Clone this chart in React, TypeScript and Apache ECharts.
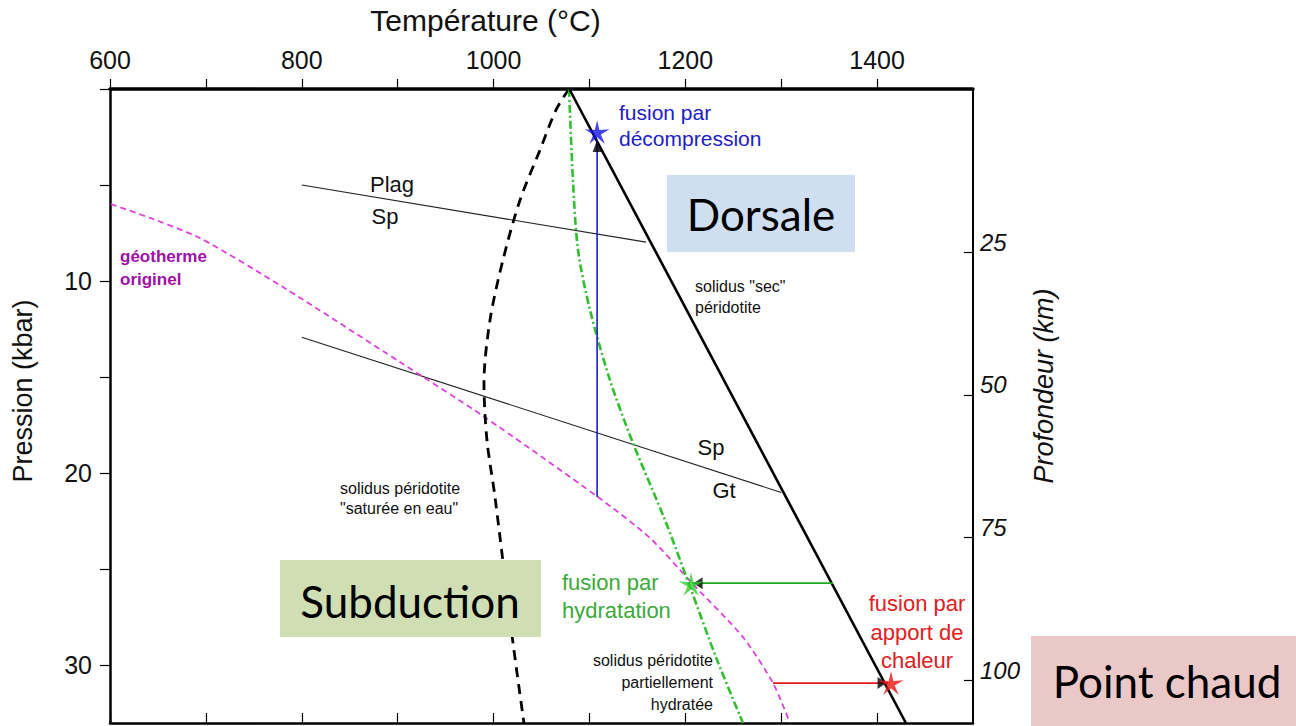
import React, { useEffect, useRef } from "react";
import * as echarts from "echarts";

// ---- axis ticks / labels ----
const tempTicks = [600, 700, 800, 900, 1000, 1100, 1200, 1300, 1400];
const tempLabels = [600, 800, 1000, 1200, 1400];
const pressureTicks = [0, 5, 10, 15, 20, 25, 30];
const pressureLabels = [10, 20, 30];
const depthTicks = [25, 50, 75, 100];

// ---- curves: [temperature °C, pressure kbar] ----
const drySolidus = [
  [1079, 0],
  [1430, 33],
];
const wetSolidus = [
  [1078.7, 0], [1065.1, 1.09], [1048.4, 3.18], [1027.6, 5.78], [1009.8, 8.9],
  [996.3, 12.03], [990, 15.3], [993.1, 18.27], [1001.5, 21.24], [1020.3, 28.84],
  [1031.7, 33],
];
const partialSolidus = [
  [1078.7, 0], [1082.8, 4.74], [1088.1, 8.38], [1100.6, 11.5], [1121.4, 15.15],
  [1145.4, 18.43], [1178.8, 22.44], [1204.9, 25.92], [1233.1, 29.72], [1260.1, 33],
];
const geotherm = [
  [601, 5.99], [641.7, 6.71], [693.9, 7.76], [780.4, 10.31], [902.4, 14.21],
  [989, 17.02], [1108.9, 21.24], [1163.1, 23.37], [1206.9, 25.72], [1260.1, 28.53],
  [1291.4, 30.92], [1309.1, 33.0],
];
const plagSp = [
  [800, 5.0],
  [1159, 7.97],
];
const spGt = [
  [800, 12.92],
  [1300, 21.0],
];
// arrows: [start, tip]
const decompression = [
  [1108, 21.24],
  [1108, 2.65],
];
const hydration = [
  [1354, 25.72],
  [1207, 25.72],
];
const heating = [
  [1291.4, 30.92],
  [1411.4, 30.92],
];
const starDecompression = [1108, 2.24];
const starHydration = [1206, 25.77];
const starHeating = [1414.5, 30.92];

const STAR =
  "path://M10,0 L11.76,7.57 L19.51,6.91 L12.85,10.93 L15.88,18.09 L10,13 L4.12,18.09 L7.15,10.93 L0.49,6.91 L8.24,7.57 Z";
const ARROW_UP = "path://M0,12 L5,0 L10,12 Z";
const ARROW_LEFT = "path://M12,0 L0,5 L12,10 Z";
const ARROW_RIGHT = "path://M0,0 L12,5 L0,10 Z";

const SANS = "Liberation Sans";
const BOX = "Lato";

export default function App() {
  const ref = useRef<HTMLDivElement>(null);

  useEffect(() => {
    if (!ref.current) return;
    const chart = echarts.init(ref.current, undefined, { renderer: "svg" });

    const gridLeft = 110;
    const gridTop = 89;
    const gridW = 863;
    const gridH = 634;
    const pxPerT = gridW / 900;
    const pxPerP = gridH / 33;
    const arrowHalf = 6;

    const line = (name: string, data: number[][], color: string, width: number, type: any, smooth: any = false) => ({
      type: "line",
      name,
      data,
      symbol: "none",
      smooth,
      silent: true,
      lineStyle: { color, width, type, cap: "butt" },
      z: 3,
    });

    const head = (pt: number[], symbol: string, dx: number, dy: number) => ({
      type: "scatter",
      data: [[pt[0] + dx / pxPerT, pt[1] + dy / pxPerP]],
      symbol,
      symbolSize: [9, 12],
      itemStyle: { color: "#000" },
      silent: true,
      z: 5,
    });

    const star = (pt: number[], color: string) => ({
      type: "scatter",
      data: [pt],
      symbol: STAR,
      symbolSize: 25,
      symbolKeepAspect: true,
      itemStyle: { color },
      silent: true,
      z: 6,
    });

    const plain = (v: number) => String(v);

    const option: any = {
      animation: false,
      backgroundColor: "#fff",
      textStyle: { fontFamily: SANS },
      grid: { left: gridLeft, top: gridTop, width: gridW, height: gridH, containLabel: false },
      xAxis: [
        {
          type: "value",
          position: "top",
          min: 600,
          max: 1500,
          interval: 100,
          name: "Température (°C)",
          nameLocation: "middle",
          nameGap: 54,
          nameTextStyle: { fontSize: 30, color: "#111", fontFamily: SANS, padding: [0, 112, 0, 0] },
          axisLine: { show: true, onZero: false, lineStyle: { color: "#000", width: 3.5 } },
          axisTick: { show: true, inside: false, length: 10, lineStyle: { color: "#000", width: 1.2 }, customValues: tempTicks },
          axisLabel: { show: true, margin: 17, fontSize: 25, color: "#111", fontFamily: SANS, customValues: tempLabels, formatter: plain },
          splitLine: { show: false },
        },
        {
          type: "value",
          position: "bottom",
          min: 600,
          max: 1500,
          interval: 100,
          axisLine: { show: true, onZero: false, lineStyle: { color: "#000", width: 2.5 } },
          axisTick: { show: true, inside: true, length: 10, lineStyle: { color: "#000", width: 1.2 }, customValues: tempTicks },
          axisLabel: { show: false },
          splitLine: { show: false },
        },
      ],
      yAxis: [
        {
          type: "value",
          inverse: true,
          position: "left",
          min: 0,
          max: 33,
          interval: 5,
          name: "Pression (kbar)",
          nameLocation: "middle",
          nameGap: 74,
          nameRotate: 90,
          nameTextStyle: { fontSize: 27, color: "#111", fontFamily: SANS, padding: [0, 0, 0, 30] },
          axisLine: { show: true, onZero: false, lineStyle: { color: "#000", width: 2.5 } },
          axisTick: { show: true, inside: false, length: 10, lineStyle: { color: "#000", width: 1.2 }, customValues: pressureTicks },
          axisLabel: { show: true, margin: 18, fontSize: 25, color: "#111", fontFamily: SANS, customValues: pressureLabels, formatter: plain },
          splitLine: { show: false },
        },
        {
          type: "value",
          inverse: true,
          position: "right",
          min: -3.56,
          max: 107.5,
          name: "Profondeur (km)",
          nameLocation: "middle",
          nameGap: 56,
          nameRotate: 90,
          nameTextStyle: { fontSize: 27, color: "#111", fontStyle: "italic", fontFamily: SANS, padding: [0, 0, 0, 40] },
          axisLine: { show: true, onZero: false, lineStyle: { color: "#000", width: 2 } },
          axisTick: { show: true, inside: true, length: 9, lineStyle: { color: "#000", width: 1.2 }, customValues: depthTicks },
          axisLabel: {
            show: true,
            margin: 7,
            fontSize: 24,
            fontStyle: "italic",
            color: "#111",
            fontFamily: SANS,
            verticalAlign: "bottom",
            lineHeight: 20,
            customValues: depthTicks,
            formatter: plain,
          },
          splitLine: { show: false },
        },
      ],
      series: [
        line("Plag/Sp", plagSp, "#222", 1.1, "solid"),
        line("Sp/Gt", spGt, "#222", 1.1, "solid"),
        line("géotherme originel", geotherm, "#e040e0", 1.8, [6, 4], 0.25),
        line("solidus saturé en eau", wetSolidus, "#000", 2.8, [10, 7], 0.3),
        line("solidus partiellement hydraté", partialSolidus, "#2fbf2f", 2.6, [8, 3, 2, 3], 0.3),
        line("solidus sec", drySolidus, "#000", 2.6, "solid"),
        line("décompression", decompression, "#1c1cc8", 1.6, "solid"),
        line("hydratation", hydration, "#22aa22", 1.8, "solid"),
        line("apport de chaleur", heating, "#e01818", 1.8, "solid"),
        head(decompression[1], ARROW_UP, 0, arrowHalf),
        head(hydration[1], ARROW_LEFT, arrowHalf, 0),
        head(heating[1], ARROW_RIGHT, -arrowHalf, 0),
        star(starDecompression, "#1515e8"),
        star(starHydration, "#33cc33"),
        star(starHeating, "#ee1111"),
      ],
      graphic: [
        // boxes
        { type: "rect", z: 100, shape: { x: 667, y: 175, width: 188, height: 77 }, style: { fill: "#cfdff1" } },
        { type: "text", z: 101, style: { text: "Dorsale", x: 761, y: 214, align: "center", verticalAlign: "middle", font: `44px ${BOX}`, fill: "#000" } },
        { type: "rect", z: 100, shape: { x: 280, y: 560, width: 261, height: 77 }, style: { fill: "#cfdeb3" } },
        { type: "text", z: 101, style: { text: "Subduction", x: 410, y: 601, align: "center", verticalAlign: "middle", font: `44px ${BOX}`, fill: "#000" } },
        { type: "rect", z: 100, shape: { x: 1031, y: 636, width: 265, height: 90 }, style: { fill: "#ebc8c8" } },
        { type: "text", z: 101, style: { text: "Point chaud", x: 1167, y: 681, align: "center", verticalAlign: "middle", font: `44px ${BOX}`, fill: "#000" } },
        // annotations
        { type: "text", z: 90, style: { text: "fusion par\ndécompression", x: 619, y: 125, align: "left", verticalAlign: "middle", lineHeight: 26, font: `21px ${SANS}`, fill: "#2020cc" } },
        { type: "text", z: 90, style: { text: 'solidus "sec"\npéridotite', x: 695, y: 297, align: "left", verticalAlign: "middle", lineHeight: 21, font: `16px ${SANS}`, fill: "#111" } },
        { type: "text", z: 90, style: { text: "Plag", x: 392, y: 184, align: "center", verticalAlign: "middle", font: `22px ${SANS}`, fill: "#111" } },
        { type: "text", z: 90, style: { text: "Sp", x: 385, y: 216, align: "center", verticalAlign: "middle", font: `22px ${SANS}`, fill: "#111" } },
        { type: "text", z: 90, style: { text: "Sp", x: 711, y: 447, align: "center", verticalAlign: "middle", font: `22px ${SANS}`, fill: "#111" } },
        { type: "text", z: 90, style: { text: "Gt", x: 724, y: 490, align: "center", verticalAlign: "middle", font: `22px ${SANS}`, fill: "#111" } },
        { type: "text", z: 90, style: { text: "géotherme\noriginel", x: 120, y: 268, align: "left", verticalAlign: "middle", lineHeight: 23, font: `bold 17px ${SANS}`, fill: "#a010a8" } },
        { type: "text", z: 90, style: { text: 'solidus péridotite\n"saturée en eau"', x: 340, y: 498, align: "left", verticalAlign: "middle", lineHeight: 20, font: `16px ${SANS}`, fill: "#111" } },
        { type: "text", z: 90, style: { text: "fusion par\nhydratation", x: 562, y: 596, align: "left", verticalAlign: "middle", lineHeight: 28, font: `22px ${SANS}`, fill: "#3aaa3a" } },
        { type: "text", z: 90, style: { text: "solidus péridotite\npartiellement\nhydratée", x: 713, y: 682, align: "right", verticalAlign: "middle", lineHeight: 22, font: `16px ${SANS}`, fill: "#111" } },
        { type: "text", z: 90, style: { text: "fusion par\napport de\nchaleur", x: 917, y: 632, align: "center", verticalAlign: "middle", lineHeight: 28.5, font: `22px ${SANS}`, fill: "#e02020" } },
      ],
    };

    chart.setOption(option);
    return () => chart.dispose();
  }, []);

  return <div ref={ref} style={{ position: "absolute", left: 0, top: 0, width: 1296, height: 726 }} />;
}
